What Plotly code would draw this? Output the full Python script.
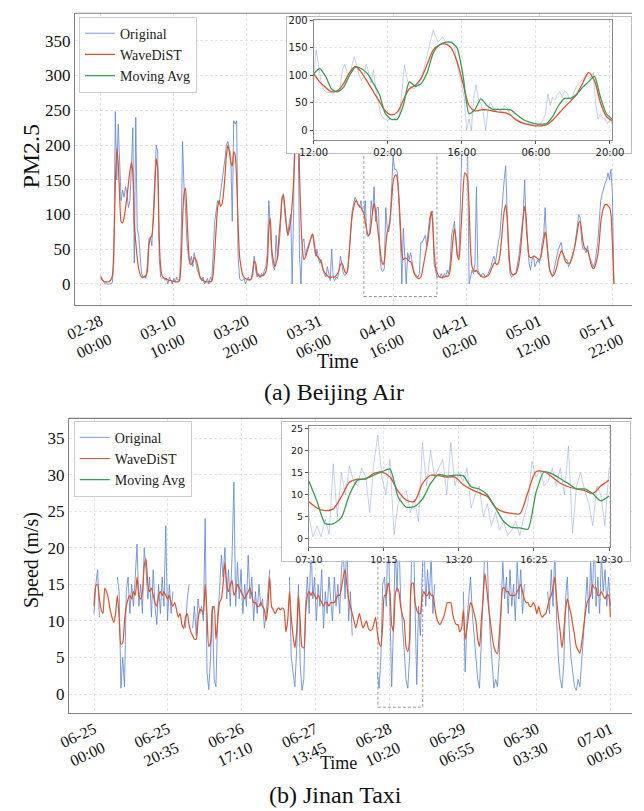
import plotly.graph_objects as go

W, H = 644, 811

# ---------------- (a) Beijing Air : hours since 02-28 00:00 ----------------
A_STEP = 5  # hours between samples (main panel)
A_ORIG = [
    12, 8, 3, 0, 0, 0, 0, 0, 2, 30, 248, 150, 230, 170, 120, 135, 125, 140, 130, 110,
    120, 165, 225, 30, 240, 80, 70, 40, 15, 10, 12, 8, 30, 65, 68, 55, 100, 150, 200, 190,
    40, 10, 8, 10, 5, 8, 0, 10, 5, 0, 8, 3, 10, 5, 8, 60, 205, 140, 110, 60,
    40, 30, 40, 25, 45, 30, 20, 15, 8, 5, 10, 0, 5, 8, 0, 10, 5, 40, 90, 105,
    120, 115, 130, 145, 160, 180, 200, 205, 195, 185, 90, 235, 230, 235, 40, 8, 5, 5, 8, 0,
    5, 10, 5, 8, 20, 40, 20, 10, 15, 10, 15, 12, 20, 25, 45, 120, 80, 40, 25, 20,
    70, 35, 55, 80, 125, 130, 100, 80, 70, 90, 100, 0, 110, 300, 250, 230, 40, 0, 60, 65,
    40, 50, 55, 60, 65, 72, 55, 40, 50, 35, 30, 35, 20, 15, 10, 25, 15, 5, 50, 10,
    5, 10, 8, 20, 40, 25, 15, 12, 15, 20, 50, 80, 105, 115, 125, 120, 115, 110, 120, 105,
    100, 120, 70, 68, 72, 120, 100, 140, 90, 110, 110, 40, 20, 18, 22, 110, 80, 75, 90, 130,
    185, 165, 165, 160, 120, 70, 0, 80, 40, 0, 45, 35, 45, 30, 20, 15, 12, 10, 15, 60,
    60, 65, 70, 55, 80, 95, 100, 105, 30, 20, 10, 10, 10, 15, 8, 15, 10, 20, 15, 30,
    70, 80, 90, 60, 40, 40, 120, 190, 200, 220, 200, 180, 0, 10, 20, 15, 30, 140, 20, 15,
    10, 15, 15, 10, 12, 15, 20, 25, 35, 40, 30, 50, 60, 70, 100, 120, 150, 170, 100, 40,
    15, 10, 12, 15, 15, 25, 40, 60, 80, 100, 150, 80, 60, 30, 20, 35, 40, 25, 30, 35,
    30, 40, 60, 70, 110, 60, 40, 20, 15, 10, 20, 30, 45, 50, 55, 60, 45, 40, 35, 35,
    25, 30, 40, 45, 50, 65, 80, 100, 95, 60, 50, 50, 45, 55, 40, 35, 30, 25, 30, 45,
    60, 90, 120, 130, 140, 145, 150, 160, 150, 165, 130, 0,
]
A_WAVE = [
    10, 6, 4, 3, 3, 3, 4, 6, 12, 50, 140, 195, 175, 125, 90, 88, 95, 110, 125, 145,
    162, 175, 160, 90, 60, 38, 22, 14, 10, 9, 10, 12, 20, 55, 66, 70, 90, 135, 180, 165,
    70, 25, 12, 9, 8, 7, 6, 5, 5, 4, 4, 3, 3, 3, 5, 30, 90, 130, 138, 100,
    55, 30, 28, 33, 38, 36, 30, 20, 10, 7, 5, 4, 3, 3, 3, 3, 4, 15, 45, 80,
    110, 120, 112, 115, 130, 155, 185, 200, 190, 175, 170, 190, 185, 150, 85, 40, 25, 14, 10, 8,
    7, 6, 6, 7, 15, 33, 30, 15, 12, 10, 12, 12, 14, 18, 30, 80, 95, 50, 35, 25,
    30, 40, 70, 95, 122, 128, 110, 85, 70, 78, 92, 115, 150, 200, 235, 230, 160, 90, 50, 35,
    38, 45, 52, 60, 68, 72, 60, 45, 40, 38, 35, 30, 22, 17, 14, 12, 10, 9, 10, 10,
    10, 12, 15, 20, 28, 30, 25, 18, 15, 22, 45, 75, 98, 110, 118, 120, 114, 112, 110, 106,
    103, 88, 78, 70, 72, 85, 105, 116, 105, 88, 70, 52, 35, 28, 33, 55, 75, 82, 95, 120,
    146, 155, 157, 150, 125, 85, 45, 35, 37, 37, 35, 33, 32, 27, 18, 13, 10, 8, 8, 10,
    18, 30, 42, 53, 65, 85, 105, 90, 50, 25, 17, 12, 10, 9, 10, 10, 11, 11, 12, 20,
    40, 65, 80, 65, 40, 35, 60, 100, 140, 160, 158, 150, 110, 50, 25, 20, 18, 20, 16, 14,
    12, 10, 10, 10, 11, 12, 15, 20, 25, 30, 30, 28, 30, 40, 60, 85, 105, 114, 95, 55,
    25, 15, 13, 14, 15, 20, 30, 45, 70, 95, 112, 95, 60, 40, 38, 38, 40, 40, 38, 36,
    35, 38, 50, 62, 75, 65, 40, 22, 15, 12, 13, 18, 25, 35, 42, 48, 45, 38, 32, 30,
    30, 30, 35, 42, 52, 62, 75, 88, 90, 75, 60, 52, 50, 48, 42, 32, 25, 22, 25, 32,
    42, 60, 88, 102, 110, 114, 115, 112, 110, 100, 60, 0,
]
A_TICKVALS = [0, 250, 500, 750, 1000, 1250, 1500, 1750]
A_TICKTEXT = ["02-28<br>00:00", "03-10<br>10:00", "03-20<br>20:00", "03-31<br>06:00",
              "04-10<br>16:00", "04-21<br>02:00", "05-01<br>12:00", "05-11<br>22:00"]

# zoomed window (inset) of (a)
A_ZOOM_X = [900, 1150]
A_ZOOM_Y = [-18, 201]
A_IN_ORIG_STEP = 2
A_IN_ORIG = [
    100, 146, 120, 90, 75, 70, 68, 70, 66, 70, 72, 75, 110, 120, 105, 100, 118, 134, 118, 100,
    90, 100, 120, 105, 85, 110, 75, 55, 30, 22, 20, 18, 20, 18, 22, 25, 30, 70, 119, 95,
    80, 78, 75, 80, 85, 92, 110, 130, 150, 165, 182, 170, 160, 165, 170, 162, 158, 162, 160, 150,
    120, 100, 80, 60, 0, 20, 0, 60, 83, 55, 48, 30, 0, 40, 50, 42, 35, 40, 35, 38,
    45, 40, 30, 25, 22, 20, 18, 15, 14, 12, 12, 10, 10, 9, 10, 12, 20, 30, 66, 45,
    60, 55, 65, 70, 60, 72, 68, 58, 55, 70, 80, 85, 92, 95, 100, 98, 95, 105, 50, 20,
    30, 22, 20, 12, 20, 10,
]
A_IN_SMOOTH_STEP = 5
A_IN_WAVE = [103, 88, 78, 70, 72, 85, 105, 116, 105, 88, 70, 52, 35, 28, 33, 55, 75, 82, 95, 120,
             146, 155, 157, 150, 125, 85, 45, 35, 37, 37, 35, 33, 32, 27, 18, 13, 10, 8, 8, 10,
             18, 30, 42, 53, 65, 85, 105, 90, 50, 25, 17]
A_IN_MAVG = [103, 112, 98, 75, 70, 78, 100, 115, 112, 103, 85, 65, 30, 20, 20, 45, 88, 80, 85, 105,
             140, 155, 160, 160, 150, 100, 30, 38, 57, 45, 38, 38, 38, 37, 28, 20, 15, 12, 11, 12,
             25, 45, 58, 58, 65, 78, 88, 98, 60, 30, 20]
A_IN_TICKVALS = [900, 962, 1024, 1086, 1148]
A_IN_TICKTEXT = ["12:00", "02:00", "16:00", "06:00", "20:00"]

# ---------------- (b) Jinan Taxi : 5-minute steps since 06-25 00:00 ----------------
B_STEP = 6
N = None
B_ORIG = [
    11, 15, 17, 10.5, N, N, N, N, N, N, N, N, N, 16, 14, 0.8, 5, 1, 14, 16,
    11, 15, 12, 16, 20.5, 12, 15, 11, 20, 17, 13, 16, 10.5, 17, 12, 9.5, 15, 11, 16, 12,
    23, 10, 15, 11, 14, N, 4, N, N, N, N, 9, 13, 15, N, 9, 12, 8, 13, 11,
    12, 10, 24, 3, 0.6, 5, 12, 2, 1, 11, 14, 19, 16, 20, 13, 17, 12, 19, 29, 12,
    18, 13, 17, 11, 15, 12, 19, 13, 16, 10, 14, 11, 15, 12, 13, 9, 11, 14, 17, N,
    N, N, N, N, N, N, N, N, N, 16, 5, 3, 1, 6, 15, 4, 0.5, 2, 12, 16,
    11, 21, 13, 16, 10, 15, 12, 17, 9, 14, 11, 16, 13, 10, 16, 12, 15, 11, 17, 20,
    13, 22, 10, 14, 8, N, N, N, N, N, N, N, N, N, N, N, N, N, 3, 0.8,
    5, 15, 16, 12, 23.5, 10, 1, 9, 20, 14, 22, 13, 10, 6, 2, 0.8, 5, 17.5, 24, 14,
    1.3, 12, 8, 16, 22, 12, 17, 13, 19, 11, 15, N, N, N, N, N, N, N, N, N,
    N, N, N, N, N, N, 14, 3, 10, 13, 16, 11, 8, 4, 2, 0.8, 7, 15, 20, 22,
    13, 8, 4, 0.8, 2, 1, 5, 12, 18, 13, 16, 11, 17, 12, 15, 10, 18, 13, 17, 11,
    15, N, N, N, N, N, N, N, N, N, N, N, N, 14, 11, 17, 12, 20, 10, 5,
    2, 0.8, 4, 13, 16, 9, 5, 3, 1, 0.5, 2, 1, 4, 8, 12, 16, 11, 18, 13, 22,
    12, 16, 11, 19, 14, 17, 12, 16, 12,
]
B_WAVE = [
    12, 14.8, 15, 13, 11.5, 11, 14.5, 14, 13, 11.5, 10.5, 9.8, 11, 13.5, 10.5, 6.8, 7, 10, 12, 13,
    13.5, 13, 14, 13.5, 16, 13.5, 13, 14, 17.5, 18.5, 15, 14, 14.5, 13.5, 12.5, 12, 13.5, 14, 13.5, 14,
    13.5, 13, 13.5, 12.5, 12, 12.5, 11.5, 10.5, 11, 9.5, 9, 10.5, 11, 9.5, 8.5, 8, 7.5, 7.5, 10, 11.5,
    11.5, 11, 15, 11, 6.5, 7, 11.5, 12, 7.5, 10, 12.5, 13, 15, 18, 15, 14, 15, 15.5, 13.5, 14,
    15, 14.5, 14, 13.5, 13, 13.5, 14, 14.5, 13.5, 12.5, 12.5, 12, 12, 12.5, 12, 11.5, 10, 12, 16, 12,
    11.5, 11, 11.5, 11.8, 11.5, 11.8, 11.5, 8.5, 10, 14, 10.5, 8, 6.3, 8.5, 13.5, 10, 6.5, 6.3, 11, 13.5,
    14, 13.5, 14, 13.5, 13, 13.5, 13, 12.5, 12, 12.5, 12.5, 12, 12.5, 12.5, 12.5, 13, 13.5, 13.5, 14.5, 16,
    17, 15, 13, 12, 11, 10, 9, 10, 11, 10, 9, 9.5, 10, 9, 8.7, 8.8, 9.5, 10.5, 8.5, 7,
    6.5, 9.5, 13.5, 13.5, 15.2, 14, 9.5, 8.6, 13.5, 14.5, 14, 12, 10.8, 10, 6.5, 5.8, 7.5, 15, 15.2, 12.6,
    11.5, 11, 11, 13.2, 14, 13.5, 13.5, 14, 13.5, 13.5, 12, 10.5, 9.8, 9.5, 10, 10.5, 11.5, 12.5, 12.5, 12.5,
    11, 10, 9.5, 9.5, 8.5, 9, 11.5, 7.5, 9, 11, 12.5, 12, 11, 10, 7.5, 6.5, 10, 13, 16.5, 14.5,
    12, 10, 8, 6.5, 5.8, 5.5, 8, 11.5, 14.5, 14.5, 14, 14, 13.5, 13.5, 13.5, 13.5, 14, 14.5, 15, 14,
    13, 12.5, 12.5, 12, 12, 12.5, 12, 11, 12, 11, 10.5, 10.8, 11, 12, 13, 13.5, 14.5, 16, 13, 10.5,
    8.5, 6.3, 8.5, 11.5, 13, 12, 11, 9.5, 8, 6.5, 6, 5.6, 7, 9, 11, 12.5, 13, 13.5, 15, 14.5,
    14.5, 13.5, 13.5, 14, 13.5, 13, 13.5, 13.5, 10.5,
]
B_TICKVALS = [0, 247, 494, 741, 988, 1235, 1482, 1729]
B_TICKTEXT = ["06-25<br>00:00", "06-25<br>20:35", "06-26<br>17:10", "06-27<br>13:45",
              "06-28<br>10:20", "06-29<br>06:55", "06-30<br>03:30", "07-01<br>00:05"]

B_ZOOM_X = [950, 1100]
B_ZOOM_Y = [-1.8, 25.6]
B_IN_ORIG_STEP = 2
B_IN_ORIG = [
    5, 0.5, 3, 0.5, 4.5, 1, 17, 5, 15, 10, 16.5, 13, 12, 16, 14, 6, 17, 23.5, 14, 10,
    18, 1, 8, 10, 11, 6, 9, 4, 21.8, 12, 20, 14, 16, 18, 10, 21.8, 12, 15, 13, 16,
    7, 10, 12, 5, 8, 3, 6, 2, 4, 0.8, 2, 4, 0.8, 5, 8, 17.5, 14, 15.5, 12, 13,
    16, 12, 16, 10, 21, 1.3, 12, 15, 11, 8, 3, 12, 10, 3, 16,
]
B_IN_SMOOTH_STEP = 4
B_IN_WAVE = [8.4, 7, 6.4, 6.8, 9.5, 12.8, 13.5, 13.6, 14.8, 15.1, 14, 10.8, 8.8, 8.5, 12.5, 14.4, 14.3, 14, 14,
             12.3, 11.2, 10.4, 9.6, 7.2, 6.1, 5.8, 5.7, 10.5, 15.2, 15.2, 14, 12.6, 11.8, 11.3, 10.9, 10.3, 12, 13.3]
B_IN_MAVG = [13.1, 8.5, 3.5, 3.4, 4.8, 10, 13.3, 13.6, 14.4, 15.2, 15.8, 9.5, 7.2, 7.3, 9, 12.5, 14.6, 14.2, 14.4,
             14.3, 11.8, 11.3, 10, 7, 4, 2.6, 2.5, 2.2, 10.5, 15.2, 14.7, 13.6, 12.5, 11.3, 11.3, 10.2, 8.6, 9.7]
B_IN_TICKVALS = [950, 987, 1024, 1061, 1098]
B_IN_TICKTEXT = ["07:10", "10:15", "13:20", "16:25", "19:30"]

# ---------------- styling ----------------
C_ORIG = "rgba(100,136,210,0.85)"
C_ORIG_IN = "rgba(110,145,215,0.42)"
C_WAVE = "#d9532c"
C_MAVG = "#3a9a54"
SERIF = "Liberation Serif"
SANS = "DejaVu Sans"
GRID = "#e4e4e4"
GRID_DASH = "3px,2px"


def px_x(p):
    return p / W


def px_y(p):
    return 1 - p / H


def grid_x(start, step, n):
    return [start + i * step for i in range(n)]


fig = go.Figure()

# (a) main
fig.add_trace(go.Scatter(x=grid_x(0, A_STEP, len(A_ORIG)), y=A_ORIG, mode="lines", name="Original",
                         line=dict(color=C_ORIG, width=1), xaxis="x", yaxis="y", legend="legend"))
fig.add_trace(go.Scatter(x=grid_x(0, A_STEP, len(A_WAVE)), y=A_WAVE, mode="lines", name="WaveDiST",
                         line=dict(color=C_WAVE, width=1.2, shape="spline", smoothing=0.6),
                         xaxis="x", yaxis="y", legend="legend"))
# (a) inset frame
fig.add_trace(go.Scatter(x=[], y=[], xaxis="x2", yaxis="y2", showlegend=False, hoverinfo="skip"))
# (a) inset
fig.add_trace(go.Scatter(x=grid_x(A_ZOOM_X[0], A_IN_ORIG_STEP, len(A_IN_ORIG)), y=A_IN_ORIG, mode="lines",
                         line=dict(color=C_ORIG_IN, width=1), xaxis="x3", yaxis="y3", showlegend=False))
fig.add_trace(go.Scatter(x=grid_x(A_ZOOM_X[0], A_IN_SMOOTH_STEP, len(A_IN_WAVE)), y=A_IN_WAVE, mode="lines",
                         line=dict(color=C_WAVE, width=1.3, shape="spline", smoothing=0.8),
                         xaxis="x3", yaxis="y3", showlegend=False))
fig.add_trace(go.Scatter(x=grid_x(A_ZOOM_X[0], A_IN_SMOOTH_STEP, len(A_IN_MAVG)), y=A_IN_MAVG, mode="lines",
                         name="Moving Avg", line=dict(color=C_MAVG, width=1.3, shape="spline", smoothing=0.6),
                         xaxis="x3", yaxis="y3", legend="legend"))

# (b) main
fig.add_trace(go.Scatter(x=grid_x(0, B_STEP, len(B_ORIG)), y=B_ORIG, mode="lines", name="Original",
                         line=dict(color=C_ORIG, width=1), xaxis="x4", yaxis="y4", legend="legend2",
                         connectgaps=False))
fig.add_trace(go.Scatter(x=grid_x(0, B_STEP, len(B_WAVE)), y=B_WAVE, mode="lines", name="WaveDiST",
                         line=dict(color=C_WAVE, width=1.2, shape="spline", smoothing=0.6),
                         xaxis="x4", yaxis="y4", legend="legend2"))
fig.add_trace(go.Scatter(x=[], y=[], xaxis="x5", yaxis="y5", showlegend=False, hoverinfo="skip"))
fig.add_trace(go.Scatter(x=grid_x(B_ZOOM_X[0], B_IN_ORIG_STEP, len(B_IN_ORIG)), y=B_IN_ORIG, mode="lines",
                         line=dict(color=C_ORIG_IN, width=1), xaxis="x6", yaxis="y6", showlegend=False))
fig.add_trace(go.Scatter(x=grid_x(B_ZOOM_X[0], B_IN_SMOOTH_STEP, len(B_IN_WAVE)), y=B_IN_WAVE, mode="lines",
                         line=dict(color=C_WAVE, width=1.3, shape="spline", smoothing=0.8),
                         xaxis="x6", yaxis="y6", showlegend=False))
fig.add_trace(go.Scatter(x=grid_x(B_ZOOM_X[0], B_IN_SMOOTH_STEP, len(B_IN_MAVG)), y=B_IN_MAVG, mode="lines",
                         name="Moving Avg", line=dict(color=C_MAVG, width=1.3, shape="spline", smoothing=0.6),
                         xaxis="x6", yaxis="y6", legend="legend2"))

main_x = dict(showgrid=True, gridcolor=GRID, griddash=GRID_DASH, gridwidth=0.8, zeroline=False,
              showline=True, linecolor="#808080", linewidth=1.2, ticks="", tickangle=-25,
              tickfont=dict(family=SERIF, size=16, color="#111"))
main_y = dict(showgrid=True, gridcolor=GRID, griddash=GRID_DASH, gridwidth=0.8, zeroline=False,
              showline=True, linecolor="#808080", linewidth=1.2, ticks="",
              tickfont=dict(family=SERIF, size=17, color="#111"))
frame = dict(showgrid=False, zeroline=False, showticklabels=False, showline=True, mirror=True,
             linecolor="#bdbdbd", linewidth=1, range=[0, 1], ticks="", fixedrange=True)
inset_ax = dict(showgrid=True, gridcolor=GRID, griddash=GRID_DASH, gridwidth=0.8, zeroline=False,
                showline=True, mirror=True, linecolor="#8a8a8a", linewidth=1, ticks="outside",
                ticklen=3, tickcolor="#555", tickwidth=0.8)

fig.update_layout(
    width=W, height=H, autosize=False,
    margin=dict(l=0, r=0, t=0, b=0),
    paper_bgcolor="white", plot_bgcolor="white",
    xaxis=dict(main_x, domain=[px_x(63.5), 1], range=[-88, 1817], anchor="y",
               tickvals=A_TICKVALS, ticktext=A_TICKTEXT),
    yaxis=dict(main_y, domain=[px_y(301.7), px_y(8.3)], range=[-30, 389.6], anchor="x",
               tickvals=list(range(0, 351, 50))),
    xaxis2=dict(frame, domain=[px_x(284), px_x(642.7)], anchor="y2"),
    yaxis2=dict(frame, domain=[px_y(149.3), px_y(12.3)], anchor="x2"),
    xaxis3=dict(inset_ax, domain=[px_x(312.3), px_x(623.3)], range=[900, 1149.8], anchor="y3",
                tickvals=A_IN_TICKVALS, ticktext=A_IN_TICKTEXT,
                tickfont=dict(family=SANS, size=10, color="#222")),
    yaxis3=dict(inset_ax, domain=[px_y(136), px_y(15.3)], range=[-18.1, 200.3], anchor="x3",
                tickvals=[0, 50, 100, 150, 200], tickfont=dict(family=SANS, size=10, color="#222")),
    xaxis4=dict(main_x, domain=[px_x(57.3), 1], range=[-83.8, 1800.3], anchor="y4",
                tickvals=B_TICKVALS, ticktext=B_TICKTEXT),
    yaxis4=dict(main_y, domain=[px_y(712.3), px_y(416)], range=[-2.58, 37.68], anchor="x4",
                tickvals=list(range(0, 36, 5))),
    xaxis5=dict(frame, domain=[px_x(279.3), px_x(642.3)], anchor="y5"),
    yaxis5=dict(frame, domain=[px_y(559), px_y(420)], anchor="x5"),
    xaxis6=dict(inset_ax, domain=[px_x(307.3), px_x(621.3)], range=[950, 1098.6], anchor="y6",
                tickvals=B_IN_TICKVALS, ticktext=B_IN_TICKTEXT,
                tickfont=dict(family=SANS, size=9.5, color="#222")),
    yaxis6=dict(inset_ax, domain=[px_y(545.7), px_y(423.3)], range=[-1.89, 25.6], anchor="x6",
                tickvals=[0, 5, 10, 15, 20, 25], tickfont=dict(family=SANS, size=9.5, color="#222")),
    legend=dict(x=px_x(67.7), y=px_y(11.7), xanchor="left", yanchor="top",
                bgcolor="rgba(255,255,255,0.9)", bordercolor="#cccccc", borderwidth=1,
                font=dict(family=SERIF, size=14, color="#222"), itemwidth=30, tracegroupgap=0),
    legend2=dict(x=px_x(62.3), y=px_y(418.3), xanchor="left", yanchor="top",
                 bgcolor="rgba(255,255,255,0.9)", bordercolor="#cccccc", borderwidth=1,
                 font=dict(family=SERIF, size=14, color="#222"), itemwidth=30, tracegroupgap=0),
    showlegend=True,
)

# dashed zoom rectangles (under the inset boxes)
fig.add_shape(type="rect", xref="x", yref="y", x0=A_ZOOM_X[0], x1=A_ZOOM_X[1], y0=A_ZOOM_Y[0], y1=A_ZOOM_Y[1],
              line=dict(color="#9a9a9a", width=1, dash="3px,2px"), layer="below")
fig.add_shape(type="rect", xref="x4", yref="y4", x0=B_ZOOM_X[0], x1=B_ZOOM_X[1], y0=B_ZOOM_Y[0], y1=B_ZOOM_Y[1],
              line=dict(color="#9a9a9a", width=1, dash="3px,2px"), layer="below")
# top border of main axes
fig.add_shape(type="line", xref="paper", yref="paper", x0=px_x(63.5), x1=1, y0=px_y(8.3), y1=px_y(8.3),
              line=dict(color="#808080", width=1.2))
fig.add_shape(type="line", xref="paper", yref="paper", x0=px_x(57.3), x1=1, y0=px_y(416), y1=px_y(416),
              line=dict(color="#808080", width=1.2))

ann = [
    ("PM2.5", 18.3, 152, 24, -90),
    ("Time", 338, 358, 20, 0),
    ("(a) Beijing Air", 333, 389, 24, 0),
    ("Speed (m/s)", 18.3, 559, 20, -90),
    ("Time", 337.7, 763, 18, 0),
    ("(b) Jinan Taxi", 334.7, 795, 24, 0),
]
for text, ax_, ay_, size, ang in ann:
    fig.add_annotation(text=text, x=px_x(ax_), y=px_y(ay_), xref="paper", yref="paper",
                       showarrow=False, textangle=ang, xanchor="center", yanchor="middle",
                       font=dict(family=SERIF, size=size, color="#111"))

fig.write_html("out.html", config={"displayModeBar": False},
               post_script="document.body.style.margin='0';document.body.style.overflow='hidden';")
